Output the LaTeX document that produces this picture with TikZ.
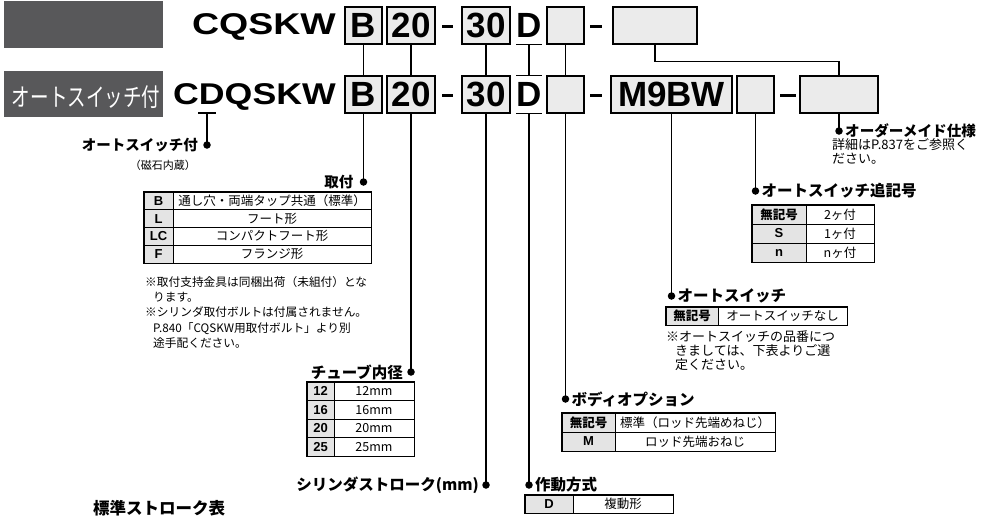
\documentclass[tikz,border=0pt]{standalone}
\usepackage{fontspec}
\newfontfamily\jp{Noto Sans CJK JP}
\newfontfamily\hv{Liberation Sans}
\usetikzlibrary{positioning}
\definecolor{hdrgray}{HTML}{58585A}
\definecolor{boxfill}{HTML}{EBEBEB}
\definecolor{keyfill}{HTML}{E4E4E4}
\tikzset{
  codebox/.style={draw, line width=1.3pt, fill=boxfill, minimum height=37pt, inner sep=0pt, font=\hv\bfseries\fontsize{35}{35}\selectfont},
  codetxt/.style={inner sep=0pt, minimum height=37pt, font=\hv\bfseries\fontsize{35}{35}\selectfont},
  conn/.style={line width=1.3pt},
  codedash/.style={line width=3pt},
  dot/.style={circle, fill, inner sep=0pt, minimum size=7.5pt},
  lbl/.style={inner sep=0pt, font=\jp\bfseries\fontsize{15.5}{17}\selectfont},
  note/.style={inner sep=0pt, align=left, font=\jp\fontsize{11.7}{15.3}\selectfont},
  rnote/.style={inner sep=0pt, align=left, font=\jp\fontsize{13}{14}\selectfont},
  keycell/.style={draw, line width=0.7pt, fill=keyfill, inner sep=0pt, font=\hv\bfseries\fontsize{13}{13}\selectfont},
  valcell/.style={draw, line width=0.7pt, fill=white, inner sep=0pt, font=\jp\fontsize{12.5}{13}\selectfont},
  frame/.style={line width=1.2pt},
}
\newcommand\mk{{\jp\bfseries\fontsize{12.5}{13}\selectfont 無記号}}
\newcommand\tabrowx[8]{%
  \node[keycell, minimum width={(#3-#2)*1pt}, minimum height={#6*1pt}] (#1k) at ({(#2+#3)/2},{#5+#6/2}) {#7};
  \node[valcell, minimum width={(#4-#3)*1pt}, minimum height={#6*1pt}] (#1v) at ({(#3+#4)/2},{#5+#6/2}) {#8};
}
\begin{document}
\begin{tikzpicture}[x=1pt, y=-1pt]
\useasboundingbox (0,0) rectangle (981,515);

% header gray boxes
\node[fill=hdrgray, minimum width=159pt, minimum height=47pt, inner sep=0pt] (hd1) at (83.5,24.5) {};
\node[fill=hdrgray, minimum width=159pt, minimum height=46pt, inner sep=0pt] (hd2) at (83.5,94) {};
\node[text=white, inner sep=0pt, font=\jp\fontsize{25}{25}\selectfont] (hd2t) at (86,97) {\scalebox{0.74}[1]{オートスイッチ付}};

% model codes
\node[anchor=base east, inner sep=0pt, font=\hv\bfseries\fontsize{30}{30}\selectfont] (c1) at (336,34) {\scalebox{1.25}[1]{CQSKW}};
\node[anchor=base east, inner sep=0pt, font=\hv\bfseries\fontsize{30}{30}\selectfont] (c2) at (336,104) {\scalebox{1.19}[1]{CDQSKW}};

% row 1
\node[codebox, minimum width=37pt] (b1) at (363.5,25.5) {B};
\node[codebox, minimum width=48pt] (s1) at (411,25.5) {20};
\draw[codedash] (442,26) -- (453,26);
\node[codebox, minimum width=48pt] (st1) at (486,25.5) {30};
\node[codetxt, minimum width=24pt] (d1) at (529,25.5) {D};
\node[codebox, minimum width=37pt] (e1) at (565.5,25.5) {};
\draw[codedash] (590,26) -- (602,26);
\node[codebox, minimum width=84pt] (m1) at (655,25.5) {};

% row 2
\node[codebox, minimum width=37pt] (b2) at (363.5,94.5) {B};
\node[codebox, minimum width=48pt] (s2) at (411,94.5) {20};
\draw[codedash] (442,95) -- (453,95);
\node[codebox, minimum width=48pt] (st2) at (486,94.5) {30};
\node[codetxt, minimum width=24pt] (d2) at (529,94.5) {D};
\node[codebox, minimum width=37pt] (e2) at (565.5,94.5) {};
\draw[codedash] (590,95) -- (602,95);
\node[codebox, minimum width=121pt] (sw2) at (671.5,94.5) {M9BW};
\node[codebox, minimum width=37pt] (n2) at (755.5,94.5) {};
\draw[codedash] (780,95) -- (796,95);
\node[codebox, minimum width=78pt] (m2) at (839,94.5) {};

% under/over lines of D
\draw[conn] (d1.south west) -- (d1.south east);
\draw[conn] (d2.north west) -- (d2.north east);
\draw[conn] (d2.south west) -- (d2.south east);
\draw[conn] (198,113) -- (216,113);
\coordinate (cdD) at (207,113);

% row1 -> row2 connectors
\draw[conn] (b1.south) -- (b2.north);
\draw[conn] (s1.south) -- (s2.north);
\draw[conn] (st1.south) -- (st2.north);
\draw[conn] (d1.south) -- (d2.north);
\draw[conn] (e1.south) -- (e2.north);
\draw[conn] (m1.south) -- ++(0,17) -| (m2.north);

% dots
\node[dot] (pAS) at (207,145) {};
\node[dot] (pB) at (363.5,182) {};
\node[dot] (pS) at (411,372) {};
\node[dot] (pST) at (486,485) {};
\node[dot] (pD) at (529,485) {};
\node[dot] (pE) at (565.5,399) {};
\node[dot] (pSW) at (671.5,296) {};
\node[dot] (pN) at (755.5,191) {};
\node[dot] (pM) at (839,131) {};

\draw[conn] (cdD) -- (pAS.center);
\draw[conn] (b2.south) -- (pB.center);
\draw[conn] (s2.south) -- (pS.center);
\draw[conn] (st2.south) -- (pST.center);
\draw[conn] (d2.south) -- (pD.center);
\draw[conn] (e2.south) -- (pE.center);
\draw[conn] (sw2.south) -- (pSW.center);
\draw[conn] (n2.south) -- (pN.center);
\draw[conn] (m2.south) -- (pM.center);

% labels
\node[lbl, font=\jp\bfseries\fontsize{14.5}{16}\selectfont, left=5pt of pAS] (lAS) {オートスイッチ付};
\node[inner sep=0pt, anchor=east, font=\jp\fontsize{11}{12}\selectfont] (lASs) at (196,165) {（磁石内蔵）};
\node[lbl, font=\jp\bfseries\fontsize{14.5}{16}\selectfont, left=6pt of pB] (lB) {取付};
\node[lbl, left=4pt of pS] (lS) {チューブ内径};
\node[lbl, left=3pt of pST] (lST) {シリンダストローク(mm)};
\node[lbl, right=2pt of pD] (lD) {作動方式};
\node[lbl, right=2pt of pE] (lE) {ボディオプション};
\node[lbl, right=2pt of pSW] (lSW) {オートスイッチ};
\node[lbl, right=2pt of pN] (lN) {オートスイッチ追記号};
\node[lbl, font=\jp\bfseries\fontsize{14.6}{16}\selectfont, right=2pt of pM] (lM) {オーダーメイド仕様};
\node[lbl, anchor=west, font=\jp\bfseries\fontsize{16.5}{18}\selectfont] (lStd) at (93,508) {標準ストローク表};

% table: mounting
\tabrowx{tA}{144}{173}{371}{192}{17.75}{B}{通し穴・両端タップ共通（標準）}
\tabrowx{tB}{144}{173}{371}{209.75}{17.75}{L}{フート形}
\tabrowx{tC}{144}{173}{371}{227.5}{17.75}{LC}{コンパクトフート形}
\tabrowx{tD}{144}{173}{371}{245.25}{17.75}{F}{フランジ形}
\draw[frame] (tAk.north west) rectangle (tDv.south east);
\node[note, anchor=north west] (nB) at (145,276) {※取付支持金具は同梱出荷（未組付）とな\\\hspace*{8pt}ります。\\※シリンダ取付ボルトは付属されません。\\\hspace*{8pt}P.840「CQSKW用取付ボルト」より別\\\hspace*{8pt}途手配ください。};

% table: bore
\tabrowx{uA}{307}{334}{414}{382}{18.5}{12}{12mm}
\tabrowx{uB}{307}{334}{414}{400.5}{18.5}{16}{16mm}
\tabrowx{uC}{307}{334}{414}{419}{18.5}{20}{20mm}
\tabrowx{uD}{307}{334}{414}{437.5}{18.5}{25}{25mm}
\draw[frame] (uAk.north west) rectangle (uDv.south east);

% table: action
\tabrowx{vA}{525}{573}{673}{495}{18}{D}{複動形}
\draw[frame] (vAk.north west) rectangle (vAv.south east);

% table: body option
\tabrowx{wA}{562}{615}{775}{413}{19}{\mk}{標準（ロッド先端めねじ）}
\tabrowx{wB}{562}{615}{775}{432}{19}{M}{ロッド先端おねじ}
\draw[frame] (wAk.north west) rectangle (wBv.south east);

% table: auto switch
\tabrowx{xA}{666}{718}{847}{307}{18}{\mk}{オートスイッチなし}
\draw[frame] (xAk.north west) rectangle (xAv.south east);
\node[rnote, anchor=north west] (nSW) at (666,331) {※オートスイッチの品番につ\\\hspace*{9pt}きましては、下表よりご選\\\hspace*{9pt}定ください。};

% table: number of switches
\tabrowx{yA}{752}{806}{874}{205}{19}{\mk}{2ヶ付}
\tabrowx{yB}{752}{806}{874}{224}{19}{S}{1ヶ付}
\tabrowx{yC}{752}{806}{874}{243}{19}{n}{nヶ付}
\draw[frame] (yAk.north west) rectangle (yCv.south east);

% made to order note
\node[rnote, anchor=north west] (nM) at (832,138.5) {詳細はP.837をご参照く\\ださい。};
\end{tikzpicture}
\end{document}
